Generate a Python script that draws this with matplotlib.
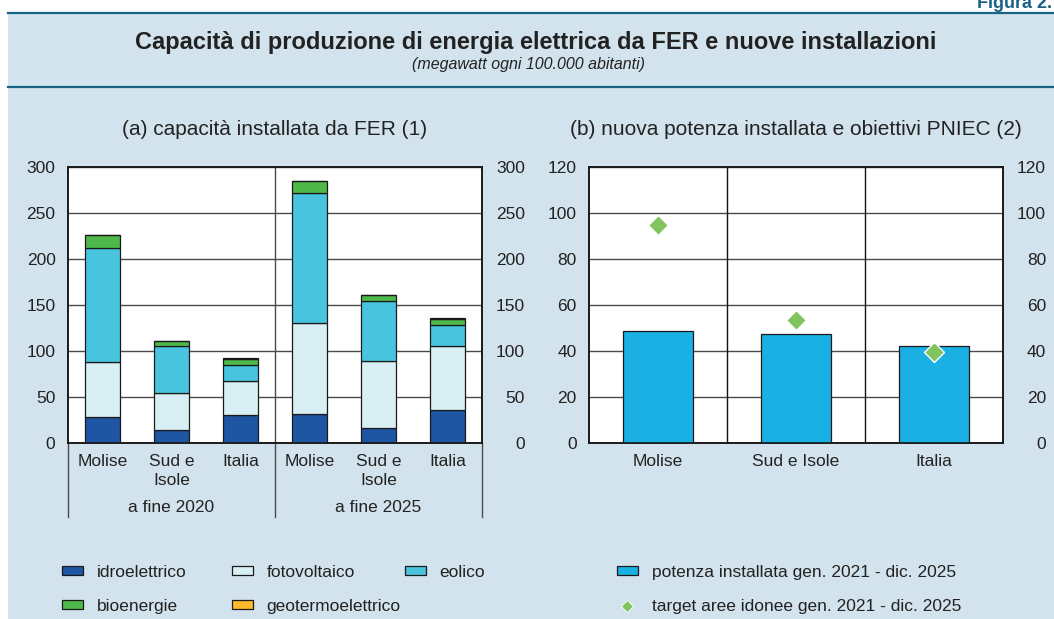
import matplotlib
matplotlib.use("Agg")
import matplotlib.pyplot as plt
from matplotlib.patches import Patch, Rectangle
from matplotlib.lines import Line2D
import matplotlib.transforms as mtransforms

plt.rcParams['font.family'] = ['Liberation Sans', 'DejaVu Sans']

# --- data ---
categories = ['Molise', 'Sud e\nIsole', 'Italia']
periods = ['a fine 2020', 'a fine 2025']
idro = [28.3, 13.8, 30.4, 31.9, 16.3, 35.9]
foto = [59.4, 40.5, 36.6, 98.5, 72.5, 69.9]
eolico = [124.3, 51.5, 18.1, 141.3, 65.5, 22.5]
bio = [14.5, 5.1, 6.2, 13.1, 6.6, 6.1]
geo = [0.0, 0.0, 1.6, 0.0, 0.0, 2.0]

regions_b = ['Molise', 'Sud e Isole', 'Italia']
potenza = [48.7, 47.4, 42.0]
target = [94.6, 53.3, 39.4]

series_names = ['idroelettrico', 'fotovoltaico', 'eolico', 'bioenergie', 'geotermoelettrico']
series_colors = ['#1f56a3', '#d8eff3', '#48c4de', '#4fb84a', '#fdb92a']
bar_b_color = '#1bb0e4'
target_color = '#7fc45f'

BG = '#d2e3ed'
LINE = '#1a6186'
TXT = '#222222'
FS = 12.5

W, H = 1054, 619
fig = plt.figure(figsize=(W / 100, H / 100), dpi=100, facecolor='white')


def px(x0, y0, x1, y1):
    return [x0 / W, 1 - y1 / H, (x1 - x0) / W, (y1 - y0) / H]


# background panel and rules
fig.patches.append(Rectangle((8 / W, 0), 1 - 8 / W, 1 - 13 / H, transform=fig.transFigure,
                             facecolor=BG, edgecolor='none', zorder=-5))
for yy in (13, 87):
    fig.lines.append(Line2D([8 / W, 1], [1 - yy / H, 1 - yy / H], transform=fig.transFigure,
                            color=LINE, lw=1.6, zorder=-4))

fig.text(1052 / W, 1 - 8 / H, 'Figura 2.', ha='right', va='baseline', fontsize=13,
         fontweight='bold', color=LINE)
fig.text(536 / W, 1 - 42 / H, 'Capacità di produzione di energia elettrica da FER e nuove installazioni',
         ha='center', va='center', fontsize=17, fontweight='bold', color=TXT)
fig.text(528 / W, 1 - 64 / H, '(megawatt ogni 100.000 abitanti)', ha='center', va='center',
         fontsize=11.5, style='italic', color=TXT)

GRID = '#4a4a4a'

# --- panel (a) ---
ax = fig.add_axes(px(68, 167, 482, 443))
x = list(range(len(idro)))
bottom = [0.0] * len(x)
for vals, col in zip([idro, foto, eolico, bio, geo], series_colors):
    ax.bar(x, vals, width=0.5, bottom=bottom, color=col, edgecolor='#1a1a1a', linewidth=0.9, zorder=3)
    bottom = [b + v for b, v in zip(bottom, vals)]
ax.set_xlim(-0.5, 5.5)
ax.set_ylim(0, 300)
ax.set_yticks(range(0, 301, 50))
ax.set_xticks(x, categories * 2)
plt.setp(ax.get_xticklabels(), linespacing=1.35)
ax.grid(axis='y', color=GRID, lw=1.0, zorder=1)
ax.axvline(2.5, color=GRID, lw=1.0, zorder=2)
ax.tick_params(length=0, labelsize=FS, labelcolor=TXT)
ax.tick_params(axis='y', pad=9)
ax.tick_params(axis='x', pad=8)
ax.set_title('(a) capacità installata da FER (1)', fontsize=15, color=TXT, pad=23)
trans = mtransforms.blended_transform_factory(ax.transData, ax.transAxes)
for xv in (-0.5, 2.5, 5.5):
    ax.plot([xv, xv], [0, -74 / 276], transform=trans, color=GRID, lw=1.0, clip_on=False)
for i, p in enumerate(periods):
    ax.text(1 + 3 * i, -64 / 276, p, transform=trans, ha='center', va='center', fontsize=FS, color=TXT)

axr = ax.twinx()
axr.set_ylim(0, 300)
axr.set_yticks(range(0, 301, 50))
axr.tick_params(length=0, labelsize=FS, labelcolor=TXT, pad=31)
plt.setp(axr.get_yticklabels(), ha='right')

# --- panel (b) ---
bx = fig.add_axes(px(589, 167, 1003, 443))
xb = list(range(len(potenza)))
bx.bar(xb, potenza, width=0.51, color=bar_b_color, edgecolor='#1a1a1a', linewidth=0.9, zorder=3)
bx.plot(xb, target, linestyle='none', marker='D', markersize=10, color=target_color,
        markeredgecolor='white', markeredgewidth=1.0, zorder=4)
bx.set_xlim(-0.5, 2.5)
bx.set_ylim(0, 120)
bx.set_yticks(range(0, 121, 20))
bx.set_xticks(xb, regions_b)
bx.grid(axis='y', color=GRID, lw=1.0, zorder=1)
for xv in (0.5, 1.5):
    bx.axvline(xv, color='#111111', lw=1.0, zorder=2)
bx.tick_params(length=0, labelsize=FS, labelcolor=TXT)
bx.tick_params(axis='y', pad=9)
bx.tick_params(axis='x', pad=8)
bx.set_title('(b) nuova potenza installata e obiettivi PNIEC (2)', fontsize=15, color=TXT, pad=23)

bxr = bx.twinx()
bxr.set_ylim(0, 120)
bxr.set_yticks(range(0, 121, 20))
bxr.tick_params(length=0, labelsize=FS, labelcolor=TXT, pad=31)
plt.setp(bxr.get_yticklabels(), ha='right')

for a in (ax, axr, bx, bxr):
    for s in a.spines.values():
        s.set_color('#1a1a1a')
        s.set_linewidth(1.2)

# --- legends ---
def patch(c):
    return Patch(facecolor=c, edgecolor='#1a1a1a', linewidth=0.9)

leg_kw = dict(frameon=False, fontsize=FS, loc='upper left', borderpad=0, borderaxespad=0,
              handlelength=1.2, handleheight=0.42, handletextpad=0.8, labelspacing=1.1,
              labelcolor=TXT)
cols = [([0, 3], 62), ([1, 4], 232), ([2], 405)]
for idxs, xl in cols:
    fig.legend([patch(series_colors[i]) for i in idxs], [series_names[i] for i in idxs],
               bbox_to_anchor=(xl / W, 1 - 565 / H), **leg_kw)

hb = [patch(bar_b_color),
      Line2D([], [], linestyle='none', marker='D', markersize=6, color=target_color,
             markeredgecolor='white', markeredgewidth=0.6)]
fig.legend(hb, ['potenza installata gen. 2021 - dic. 2025', 'target aree idonee gen. 2021 - dic. 2025'],
           bbox_to_anchor=(617 / W, 1 - 565 / H), **leg_kw)

fig.savefig('out.png', dpi=100, facecolor='white')
